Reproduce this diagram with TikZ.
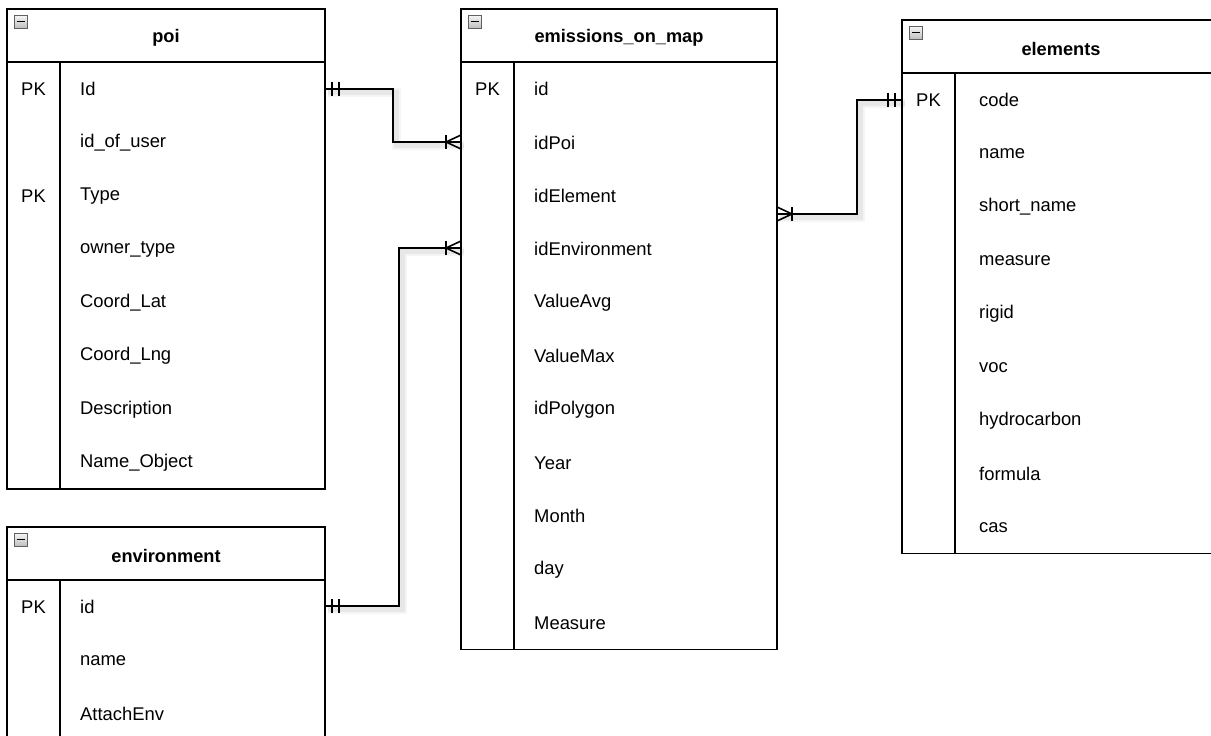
\documentclass[tikz,border=0pt]{standalone}
\usepackage{fontspec}
\setmainfont{Liberation Sans}
\usetikzlibrary{calc}
\tikzset{
  tbox/.style={draw=black, line width=1.6pt, inner sep=0pt, outer sep=0pt, anchor=north west, fill=white},
  tline/.style={draw=black, line width=1.6pt},
  ttl/.style={font=\bfseries\fontsize{18.2}{21}\selectfont, inner sep=0pt},
  fld/.style={font=\fontsize{18.4}{21}\selectfont, anchor=west, inner sep=0pt},
  pkl/.style={font=\fontsize{18.4}{21}\selectfont, anchor=center, inner sep=0pt},
  icon/.style={draw=gray!75!black, line width=0.8pt, top color=gray!8, bottom color=gray!50, minimum size=12.5pt, inner sep=0pt, anchor=north west},
  rel/.style={draw=black, line width=1.6pt},
  relshadowA/.style={draw=black, opacity=0.04, line width=9pt, transform canvas={shift={(3pt,-3pt)}}},
  relshadowB/.style={draw=black, opacity=0.06, line width=5pt, transform canvas={shift={(3pt,-3pt)}}},
}
\newcommand\ErTab[6]{%
  \pgfmathsetmacro\ErH{53+53.4*#5}%
  \node[tbox, minimum width=#4, minimum height=\ErH] (#1) at (#2,#3) {};
  \draw[tline] (#2,#3+53) -- ++(#4,0);
  \draw[tline] (#2+53,#3+53) -- (#2+53,#3+\ErH);
  \node[ttl] (#1-title) at (#2+#4/2,#3+29) {#6};
  \node[icon] (#1-icon) at (#2+7,#3+6) {};
  \draw[line width=1.5pt] ([xshift=2.5pt]#1-icon.west) -- ([xshift=-2.5pt]#1-icon.east);
}
\begin{document}
\begin{tikzpicture}[x=1pt,y=-1pt]
\useasboundingbox (0,0) rectangle (1211,736);

% ---------- tables ----------
\ErTab{poi}{7}{9}{318}{8}{poi}
\foreach \t [count=\i] in {Id,id\_of\_user,Type,owner\_type,Coord\_Lat,Coord\_Lng,Description,Name\_Object}
  \node[fld] (poi-\i) at (80,62+53.4*\i-26.2) {\t};
\node[pkl] (poi-pk1) at ([xshift=26.5pt]poi.west |- poi-1) {PK};
\node[pkl] (poi-pk3) at ([xshift=26.5pt]poi.west |- poi-3) {PK};

\ErTab{env}{7}{527}{318}{4}{environment}
\foreach \t [count=\i] in {id,name,AttachEnv}
  \node[fld] (env-\i) at (80,580+53.4*\i-26.2) {\t};
\node[pkl] (env-pk1) at ([xshift=26.5pt]env.west |- env-1) {PK};

\ErTab{em}{461}{9}{316}{11}{emissions\_on\_map}
\foreach \t [count=\i] in {id,idPoi,idElement,idEnvironment,ValueAvg,ValueMax,idPolygon,Year,Month,day,Measure}
  \node[fld] (em-\i) at (534,62+53.4*\i-26.2) {\t};
\node[pkl] (em-pk1) at ([xshift=26.5pt]em.west |- em-1) {PK};

\ErTab{el}{902}{20}{318}{9}{elements}
\foreach \t [count=\i] in {code,name,short\_name,measure,rigid,voc,hydrocarbon,formula,cas}
  \node[fld] (el-\i) at (979,73+53.4*\i-26.2) {\t};
\node[pkl] (el-pk1) at ([xshift=26.5pt]el.west |- el-1) {PK};

% ---------- connection points ----------
\coordinate (p1) at ($(poi.north east)+(0,80)$);
\coordinate (q1) at ($(em.north west)+(0,133)$);
\coordinate (p2) at ($(env.north east)+(0,79)$);
\coordinate (q2) at ($(em.north west)+(0,239)$);
\coordinate (p3) at ($(em.north east)+(0,205)$);
\coordinate (q3) at ($(el.north west)+(0,80)$);

% shadows
\foreach \s in {relshadowA,relshadowB}{
  \draw[\s] (p1) -- ++(68,0) |- (q1);
  \draw[\s] (p2) -- ++(74,0) |- (q2);
  \draw[\s] (p3) -- ++(80,0) |- (q3);
}

% lines
\draw[rel] (p1) -- ++(68,0) |- (q1);
\draw[rel] (p2) -- ++(74,0) |- (q2);
\draw[rel] (p3) -- ++(80,0) |- (q3);

% mandatory-one bars
\foreach \c/\s in {p1/1,p2/1,q3/-1}{
  \draw[rel] ($(\c)+(\s*7,-7)$) -- ++(0,14);
  \draw[rel] ($(\c)+(\s*14,-7)$) -- ++(0,14);
}
% one-to-many crow's feet
\foreach \c/\s in {q1/-1,q2/-1,p3/1}{
  \draw[rel] ($(\c)+(\s*15,-7)$) -- ++(0,14);
  \draw[rel] ($(\c)+(0,-7)$) -- ($(\c)+(\s*15,0)$) -- ($(\c)+(0,7)$);
}
\end{tikzpicture}
\end{document}
